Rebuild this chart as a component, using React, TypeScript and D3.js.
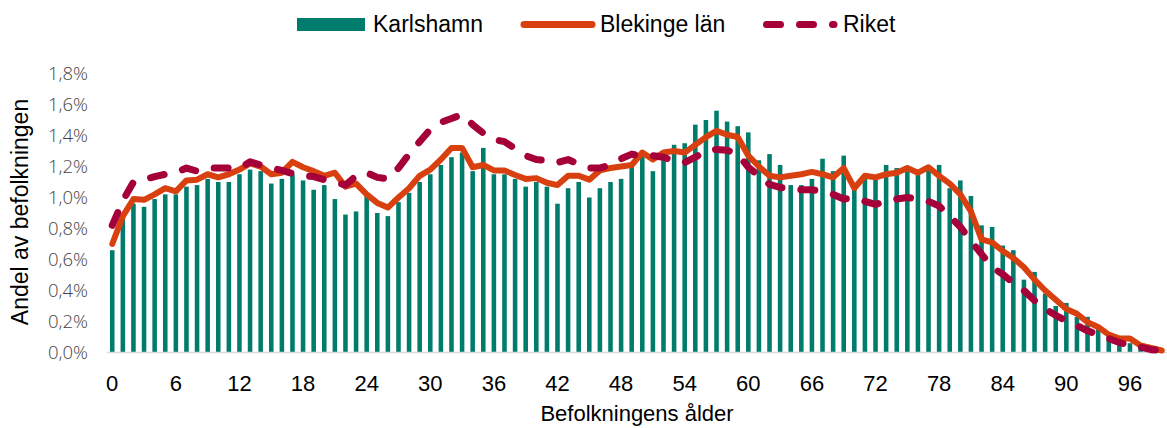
import * as React from "react";
import * as d3 from "d3";

// andel av befolkningen per ålder, i procent
const ages: number[] = d3.range(0, 100);

const karlshamn: number[] = [
  0.66, 0.88, 0.96, 0.94, 0.99, 1.02, 1.02, 1.07, 1.08, 1.12,
  1.1, 1.1, 1.15, 1.18, 1.17, 1.09, 1.12, 1.15, 1.11, 1.05,
  1.08, 0.99, 0.89, 0.91, 1.01, 0.9, 0.88, 0.97, 1.03, 1.1,
  1.15, 1.21, 1.26, 1.29, 1.17, 1.32, 1.15, 1.15, 1.12, 1.07,
  1.1, 1.07, 0.96, 1.06, 1.1, 1.0, 1.06, 1.1, 1.12, 1.2,
  1.3, 1.17, 1.3, 1.34, 1.35, 1.47, 1.5, 1.56, 1.49, 1.46,
  1.42, 1.24, 1.28, 1.21, 1.08, 1.08, 1.12, 1.25, 1.17, 1.27,
  1.05, 1.12, 1.13, 1.21, 1.19, 1.17, 1.15, 1.2, 1.21, 1.06,
  1.11, 1.01, 0.82, 0.81, 0.69, 0.66, 0.47, 0.52, 0.38, 0.3,
  0.32, 0.23, 0.23, 0.16, 0.12, 0.08, 0.06, 0.04, 0.02, 0.01
];

const blekinge: number[] = [
  0.7, 0.88, 0.99, 0.985, 1.02, 1.06, 1.04, 1.11, 1.115, 1.15,
  1.13, 1.15, 1.18, 1.22, 1.2, 1.15, 1.16, 1.23, 1.195, 1.17,
  1.14, 1.16, 1.07, 1.09, 1.02, 0.965, 0.935, 1.0, 1.06, 1.14,
  1.18, 1.245, 1.32, 1.32, 1.195, 1.21, 1.175, 1.175, 1.145, 1.12,
  1.125, 1.095, 1.08, 1.14, 1.14, 1.115, 1.175, 1.19, 1.2, 1.21,
  1.29, 1.245, 1.29, 1.3, 1.29, 1.34, 1.39, 1.43, 1.405, 1.39,
  1.27, 1.2, 1.14, 1.13, 1.14, 1.15, 1.165, 1.15, 1.13, 1.19,
  1.06, 1.14, 1.13, 1.15, 1.16, 1.19, 1.16, 1.195, 1.14, 1.09,
  1.02, 0.91, 0.73, 0.71, 0.655, 0.61, 0.55, 0.47, 0.4, 0.34,
  0.28, 0.25, 0.195, 0.165, 0.115, 0.09, 0.09, 0.045, 0.03, 0.013
];

const riket: number[] = [
  0.82, 0.98, 1.1, 1.115, 1.135, 1.15, 1.16, 1.19, 1.17, 1.19,
  1.19, 1.19, 1.19, 1.23, 1.21, 1.19, 1.175, 1.155, 1.14, 1.135,
  1.115, 1.1, 1.08, 1.14, 1.16, 1.13, 1.12, 1.19, 1.28, 1.36,
  1.44, 1.485, 1.51, 1.535, 1.47, 1.415, 1.375, 1.36, 1.315, 1.27,
  1.245, 1.24, 1.225, 1.245, 1.215, 1.19, 1.19, 1.21, 1.25, 1.28,
  1.265, 1.27, 1.26, 1.235, 1.225, 1.26, 1.3, 1.31, 1.305, 1.28,
  1.195, 1.14, 1.085, 1.065, 1.055, 1.05, 1.05, 1.04, 1.02, 0.99,
  0.995, 0.975, 0.955, 0.975, 0.99, 1.0, 0.99, 0.975, 0.945, 0.88,
  0.81, 0.72, 0.635, 0.55, 0.505, 0.45, 0.4, 0.335, 0.28, 0.24,
  0.205, 0.175, 0.14, 0.115, 0.09, 0.065, 0.045, 0.035, 0.018, 0.013
];

const yTicks: number[] = [0, 0.2, 0.4, 0.6, 0.8, 1.0, 1.2, 1.4, 1.6, 1.8];
const xTicks: number[] = d3.range(0, 100, 6);

const TEAL = "#007c6c";
const ORANGE = "#d9400f";
const CRIMSON = "#a6003a";
const font = "'Liberation Sans', Arial, sans-serif";

export default function App() {
  const width = 1167;
  const height = 428;

  const x = d3
    .scaleBand<number>()
    .domain(ages)
    .range([107, 1167])
    .paddingInner(0.57)
    .paddingOuter(0.28);
  const cx = (a: number) => (x(a) as number) + x.bandwidth() / 2;

  const y = d3.scaleLinear().domain([0, 1.8]).range([352.5, 73.5]);

  const line = d3
    .line<number>()
    .x((_d, i) => cx(ages[i]))
    .y(d => y(d));

  const fmt = (v: number) => v.toFixed(1).replace(".", ",") + "%";

  return (
    <svg
      width={width}
      height={height}
      style={{ position: "absolute", left: 0, top: 0, background: "#fff" }}
    >
      {/* legend */}
      <g fontFamily={font} fontSize={23} fill="#000">
        <rect x={297} y={18} width={68} height={13} fill={TEAL} />
        <text x={373} y={32}>Karlshamn</text>
        <line x1={524} x2={592} y1={24.5} y2={24.5} stroke={ORANGE} strokeWidth={7} strokeLinecap="round" />
        <text x={600} y={32}>Blekinge län</text>
        <line
          x1={766.5}
          x2={834}
          y1={24.5}
          y2={24.5}
          stroke={CRIMSON}
          strokeWidth={7}
          strokeLinecap="round"
          strokeDasharray="14 19"
        />
        <text x={843} y={32}>Riket</text>
      </g>

      {/* y axis labels */}
      <g fontFamily="'Open Sans', Lato, sans-serif" fontWeight={300} fontSize={18.5} fill="#444">
        {yTicks.map(t => (
          <text key={t} x={88} y={y(t)} dy="0.35em" textAnchor="end">
            {fmt(t)}
          </text>
        ))}
      </g>
      <text
        transform={`translate(28,212) rotate(-90)`}
        textAnchor="middle"
        fontFamily={font}
        fontSize={23}
        fill="#000"
      >
        Andel av befolkningen
      </text>

      {/* bars */}
      <g fill={TEAL}>
        {ages.map((a, i) => (
          <rect
            key={a}
            x={x(a)}
            y={y(karlshamn[i])}
            width={x.bandwidth()}
            height={y(0) - y(karlshamn[i])}
          />
        ))}
      </g>

      <line x1={107} x2={1167} y1={352.5} y2={352.5} stroke="#d9d9d9" strokeWidth={1.5} />

      {/* lines */}
      <path
        d={line(blekinge) as string}
        fill="none"
        stroke={ORANGE}
        strokeWidth={6}
        strokeLinejoin="round"
        strokeLinecap="round"
      />
      <path
        d={line(riket) as string}
        fill="none"
        stroke={CRIMSON}
        strokeWidth={7}
        strokeLinejoin="round"
        strokeLinecap="round"
        strokeDasharray="14 19"
      />

      {/* x axis */}
      <g fontFamily={font} fontSize={22} fill="#000">
        {xTicks.map(t => (
          <text key={t} x={cx(t)} y={391} textAnchor="middle">
            {t}
          </text>
        ))}
        <text x={637} y={421} textAnchor="middle">
          Befolkningens ålder
        </text>
      </g>
    </svg>
  );
}
